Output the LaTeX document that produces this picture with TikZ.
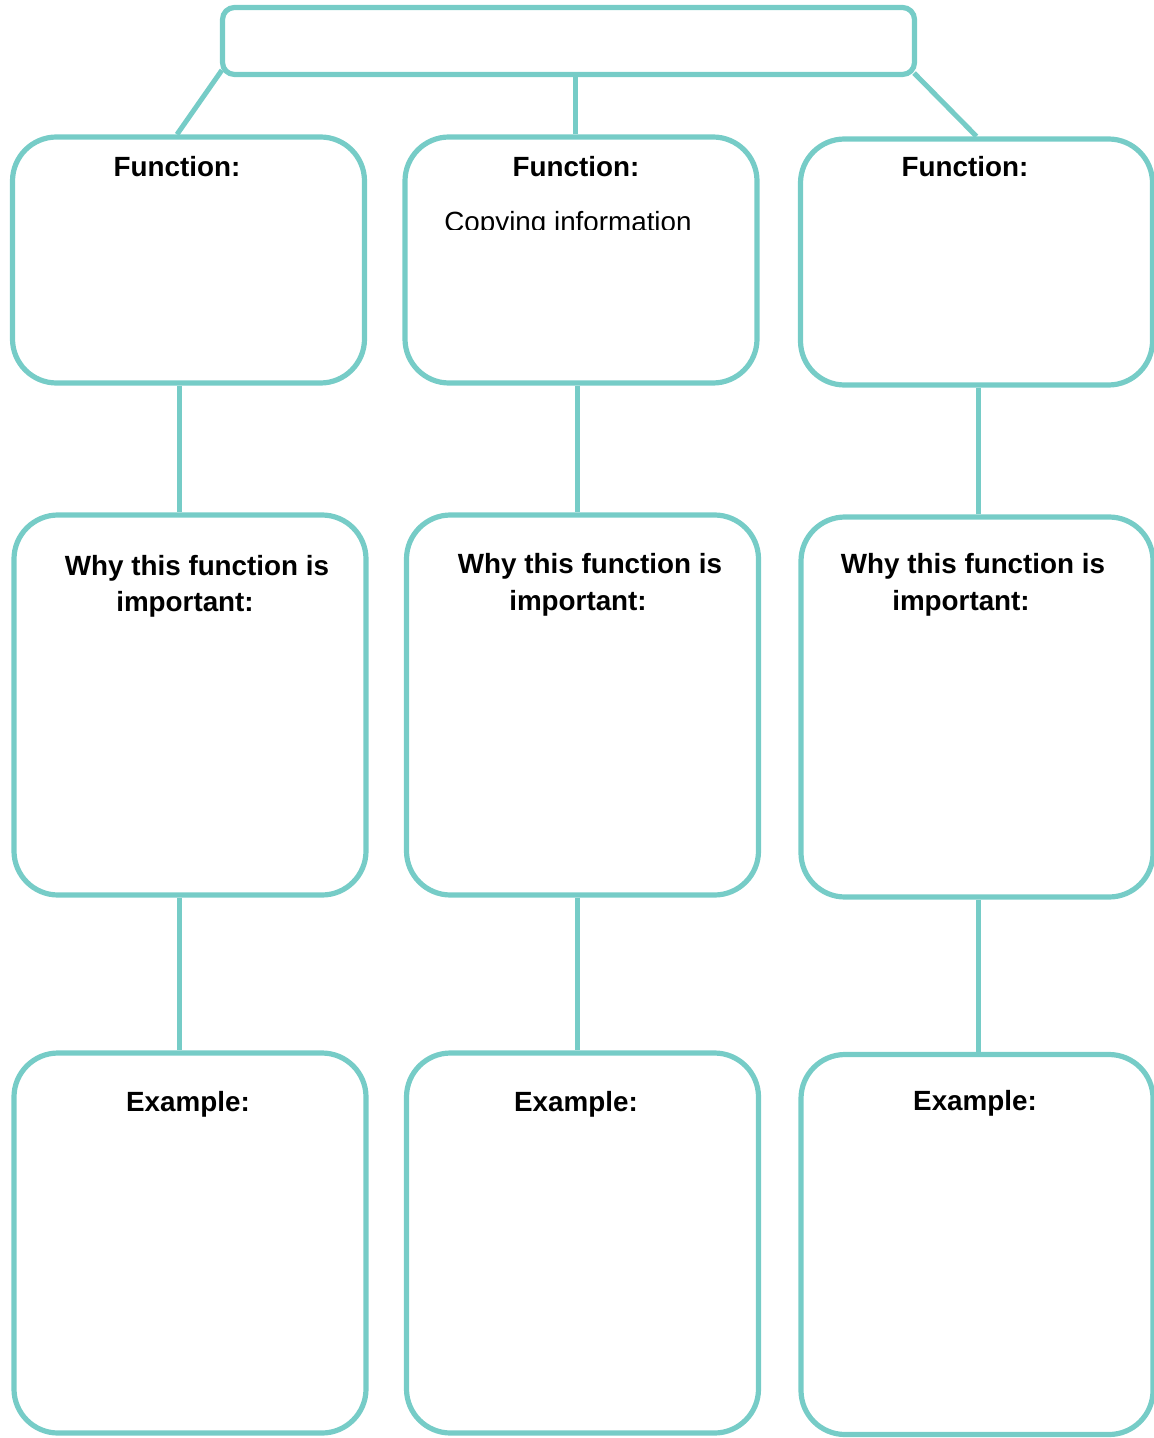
\documentclass[tikz,border=0pt]{standalone}
\usepackage{fontspec}
\setmainfont{Liberation Sans}
\definecolor{mapteal}{RGB}{118,204,199}

\begin{document}
\begin{tikzpicture}[x=0.5pt,y=-0.5pt,
	box/.style={draw=mapteal, line width=2.6pt, rounded corners=22pt, minimum width=176pt, inner sep=0pt},
	link/.style={draw=mapteal, line width=2.5pt},
	head/.style={font=\fontsize{13.9}{16}\selectfont\bfseries, anchor=base}]
\useasboundingbox (0,0) rectangle (1154,1438);

% top box
\node[box, rounded corners=6pt, minimum width=346pt, minimum height=33.5pt] (top) at (568.5,41) {};

% function boxes
\foreach \n/\x/\y in {f1/188.5/260, f2/581/260, f3/976.5/262}
	\node[box, minimum height=123pt] (\n) at (\x,\y) {};
% importance boxes
\foreach \n/\x/\y in {w1/190/705, w2/582.5/705, w3/977/707}
	\node[box, minimum height=190pt] (\n) at (\x,\y) {};
% example boxes
\foreach \n/\x/\y in {e1/190/1243, e2/582.5/1243, e3/977/1244.5}
	\node[box, minimum height=190pt] (\n) at (\x,\y) {};

% connectors
\draw[link] ([shift={(1pt,3.5pt)}]top.south west) -- ([xshift=-5.75pt]f1.north);
\draw[link] ([xshift=3.25pt]top.south) -- ([xshift=-3pt]f2.north);
\draw[link] ([shift={(-1.5pt,2pt)}]top.south east) -- (f3.north);
\draw[link] ([xshift=-4.75pt]f1.south) -- ([xshift=-4.75pt]f1.south |- w1.north);
\draw[link] ([xshift=-2pt]f2.south) -- ([xshift=-2pt]f2.south |- w2.north);
\draw[link] ([xshift=0.75pt]f3.south) -- ([xshift=0.75pt]f3.south |- w3.north);
\draw[link] ([xshift=-5.5pt]w1.south) -- ([xshift=-5.5pt]w1.south |- e1.north);
\draw[link] ([xshift=-2.75pt]w2.south) -- ([xshift=-2.75pt]w2.south |- e2.north);
\draw[link] ([xshift=0.5pt]w3.south) -- ([xshift=0.5pt]w3.south |- e3.north);

% labels
\foreach \n/\x in {1/177, 2/576, 3/965}
	\node[head] (fl\n) at (\x,177) {Function:};
\foreach \n/\x/\y in {1/197/575, 2/590/573, 3/973/573}
	\node[head] (wl\n) at (\x,\y) {Why this function is};
\foreach \n/\x/\y in {1/185/611, 2/578/610, 3/961/610}
	\node[head] (il\n) at (\x,\y) {important:};
\foreach \n/\x/\y in {1/188/1111, 2/576/1111, 3/975/1110}
	\node[head] (el\n) at (\x,\y) {Example:};

\begin{scope}
	\clip (420,195) rectangle (740,230);
	\node[font=\fontsize{13.9}{16}\selectfont, anchor=base west, inner sep=0pt] (copy) at (444,232) {Copying information};
\end{scope}
\end{tikzpicture}
\end{document}
